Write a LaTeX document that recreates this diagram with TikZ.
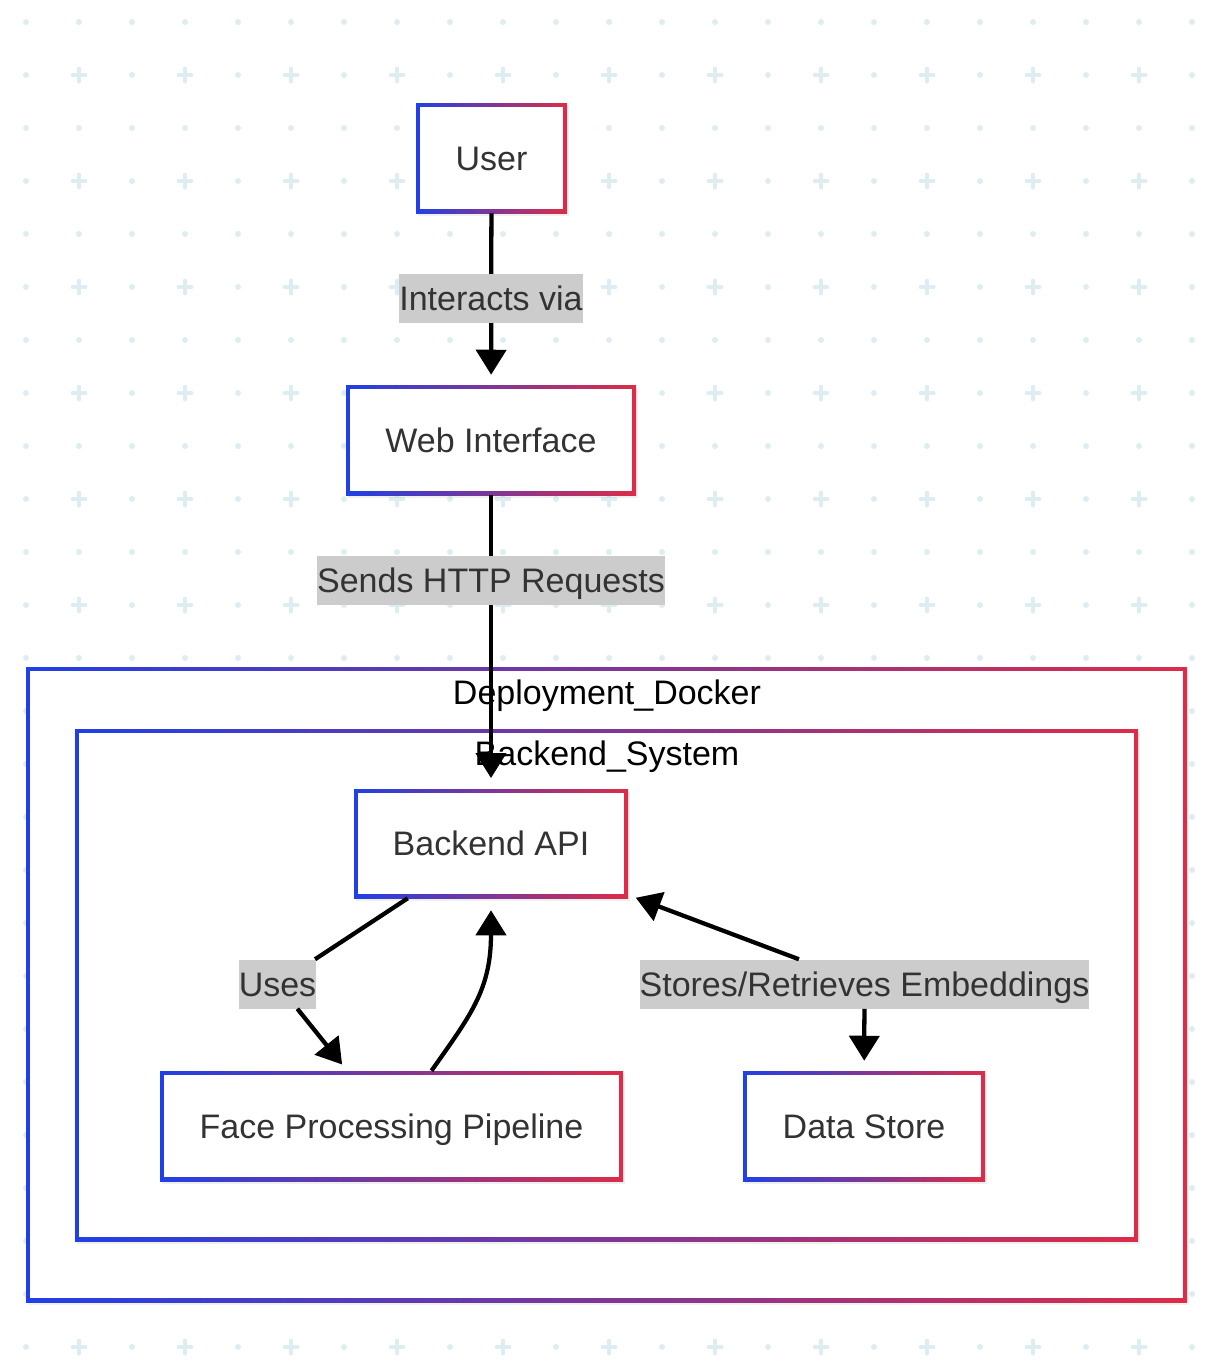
\documentclass[tikz,border=0pt]{standalone}
\usepackage{fontspec}
\setmainfont{Liberation Sans}
\usetikzlibrary{arrows.meta,shadows}

\newdimen\px \px=0.75pt
\definecolor{gblue}{RGB}{32,64,230}
\definecolor{gred}{RGB}{221,44,72}
\definecolor{gridc}{RGB}{222,237,241}
\definecolor{txt}{RGB}{51,51,51}
\definecolor{lblbg}{RGB}{204,204,204}

\tikzset{
  gbox/.style 2 args={minimum width=#1\px,minimum height=#2\px,inner sep=0pt,fill=white,
    drop shadow={shadow xshift=1.5pt,shadow yshift=-2pt,opacity=0.12},
    font=\fontsize{25.5}{30}\selectfont,text=txt,text height=18.3pt,text depth=0pt,
    path picture={
      \shade[left color=gblue,right color=gred] (path picture bounding box.south west) rectangle (path picture bounding box.north east);
      \fill[white] ([xshift=3pt,yshift=3pt]path picture bounding box.south west) rectangle ([xshift=-3pt,yshift=-3pt]path picture bounding box.north east);
    }},
  clustertitle/.style={font=\fontsize{25.5}{30}\selectfont,text=black,inner sep=0pt,text height=18.3pt,text depth=0pt},
  edgelbl/.style={fill=lblbg,text=txt,font=\fontsize{25.5}{30}\selectfont,inner xsep=0pt,inner ysep=0pt,
    text height=18.3pt,text depth=0pt,minimum height=36.75pt},
  arr/.style={line width=3.2pt,-{Triangle[length=18.75pt,width=22.5pt]}},
  plain/.style={line width=3.2pt}
}

\begin{document}
\begin{tikzpicture}[x=0.75pt,y=-0.75pt]
\useasboundingbox (0,0) rectangle (1212,1364);
% background grid
\foreach \r in {0,...,12} {
  \foreach \c in {0,...,22}
    \fill[gridc] (26+53*\c,22+106*\r) circle (3);
  \foreach \c in {0,...,11}
    \fill[gridc] (26+106*\c,75+106*\r) circle (3);
  \foreach \c in {0,...,10}
    \draw[gridc,line width=3pt,line cap=round] (72.5+106*\c,75+106*\r) -- (85.5+106*\c,75+106*\r)
      (79+106*\c,68.5+106*\r) -- (79+106*\c,81.5+106*\r);
}

% clusters
\node[gbox={1161}{635}] (docker) at (606.5,984.5) {};
\node[clustertitle] (dockertitle) at (607,692) {Deployment\_Docker};
\node[gbox={1063}{512}] (backend) at (606.5,985) {};
\node[clustertitle] (backendtitle) at (607,753) {Backend\_System};

% nodes
\node[gbox={151}{110}] (user) at (491.5,158) {User};
\node[gbox={290}{110}] (web) at (491,440) {Web Interface};
\node[gbox={274}{109}] (api) at (491,843.5) {Backend API};
\node[gbox={463}{110}] (face) at (391.5,1126) {Face Processing Pipeline};
\node[gbox={242}{110}] (store) at (864,1126) {Data Store};

% edges
\draw[arr,shorten >=7.5pt] (user) -- (web);
\node[edgelbl] (interlbl) at (491,298.5) {Interacts via};
\draw[arr,shorten >=8pt] (web) -- (api);
\node[edgelbl] (httplbl) at (491,580.5) {Sends HTTP Requests};

\node[edgelbl] (useslbl) at (277.5,984) {Uses};
\draw[plain] (api) -- (useslbl);
\draw[arr,shorten >=6pt] (useslbl) -- (face);

\draw[arr] ([xshift=30pt]face.north) .. controls (470,1016) and (491,990) .. ([yshift=-9pt]api.south);

\node[edgelbl] (storelbl) at (864.5,984) {Stores/Retrieves Embeddings};
\draw[arr,shorten >=6pt] (storelbl) -- (api);
\draw[arr,shorten >=7.5pt] (storelbl) -- (store);
\end{tikzpicture}
\end{document}
